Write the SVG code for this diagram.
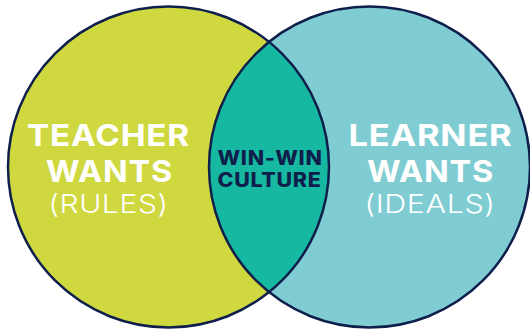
<svg xmlns="http://www.w3.org/2000/svg" width="530" height="331" viewBox="0 0 530 331">
<defs>
<style>
.h{font-family:"Inter","Liberation Sans",sans-serif;font-weight:700;font-size:30px;letter-spacing:.7px;fill:#fff;text-anchor:middle}
.s{font-family:"Inter","Liberation Sans",sans-serif;font-weight:300;font-size:26px;letter-spacing:.5px;fill:#fff;text-anchor:middle}
.c{font-family:"Inter","Liberation Sans",sans-serif;font-weight:800;font-size:19.5px;letter-spacing:.6px;fill:#0f1f4b;text-anchor:middle}
.o{fill:none;stroke:#0f1f4b;stroke-width:2.5}
</style>
<clipPath id="lc"><circle cx="168.500" cy="167" r="160.5"/></clipPath>
</defs>
<g id="teacher">
<circle cx="168.500" cy="167" r="160.500" fill="#cfd83f"/>
<text class="h" x="108.500" y="146" textLength="163" lengthAdjust="spacingAndGlyphs">TEACHER</text>
<text class="h" x="109.500" y="182" textLength="127" lengthAdjust="spacingAndGlyphs">WANTS</text>
<text class="s" x="108.500" y="213" textLength="120" lengthAdjust="spacingAndGlyphs">(RULES)</text>
</g>
<g id="learner">
<circle cx="369.500" cy="167" r="160.500" fill="#7fcdd3"/>
<text class="h" x="430.500" y="146" textLength="164" lengthAdjust="spacingAndGlyphs">LEARNER</text>
<text class="h" x="430.500" y="182" textLength="127" lengthAdjust="spacingAndGlyphs">WANTS</text>
<text class="s" x="430" y="213" textLength="131" lengthAdjust="spacingAndGlyphs">(IDEALS)</text>
</g>
<g id="overlap">
<circle cx="369.500" cy="167" r="160.500" fill="#17b8a2" clip-path="url(#lc)"/>
<text class="c" x="270" y="164.500" textLength="105" lengthAdjust="spacingAndGlyphs">WIN-WIN</text>
<text class="c" x="269.500" y="187" textLength="104" lengthAdjust="spacingAndGlyphs">CULTURE</text>
</g>
<g id="connectors">
<circle class="o" cx="168.500" cy="167" r="160.500"/>
<circle class="o" cx="369.500" cy="167" r="160.500"/>
</g>
</svg>
